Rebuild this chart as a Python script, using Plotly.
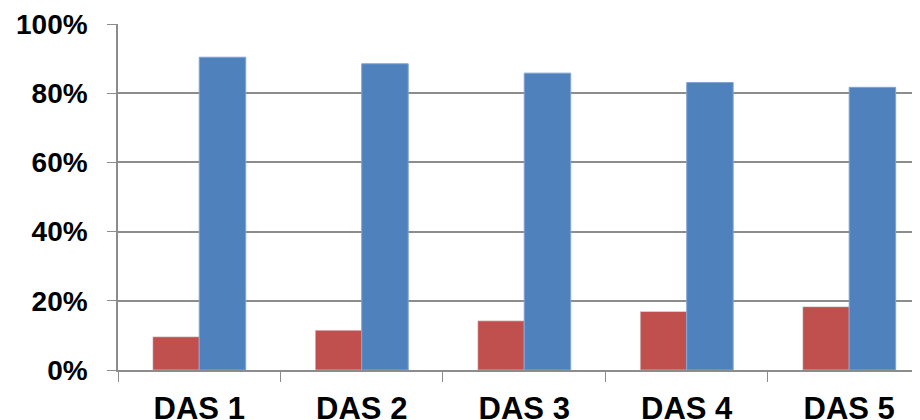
import plotly.graph_objects as go

categories = ["DAS 1", "DAS 2", "DAS 3", "DAS 4", "DAS 5"]
red_values = [9.6, 11.5, 14.2, 16.9, 18.3]
blue_values = [90.4, 88.5, 85.8, 83.1, 81.7]
y_ticks = [0, 20, 40, 60, 80, 100]
y_labels = [f"{v}%" for v in y_ticks]

fig = go.Figure()
fig.add_trace(go.Bar(x=categories, y=red_values, name="Series 1", marker_color="#C0504D"))
fig.add_trace(go.Bar(x=categories, y=blue_values, name="Series 2",
                     marker=dict(color="#4F81BD", line=dict(color="#7FA3D3", width=1))))

# page body has an 8px margin, so the margins here are 8px smaller
fig.update_layout(
    width=920, height=420,
    margin=dict(l=110, r=0, t=16, b=58),
    plot_bgcolor="white", paper_bgcolor="white",
    showlegend=False,
    barmode="group", bargap=0.428, bargroupgap=0,
    font=dict(family="Liberation Sans", color="black"),
)
fig.update_xaxes(
    range=[-0.5, 4.485],
    showline=True, linecolor="#8c8c8c", linewidth=1.5,
    ticks="outside", tickson="boundaries", ticklen=10, tickcolor="#8c8c8c",
    tickfont=dict(size=31, family="Liberation Sans", color="black", weight="bold"),
    ticklabelstandoff=10,
    showgrid=False,
)
fig.update_yaxes(
    range=[0, 100], tickvals=y_ticks, ticktext=y_labels,
    showline=True, linecolor="#8c8c8c", linewidth=1.5,
    ticks="outside", ticklen=9, tickcolor="#8c8c8c",
    gridcolor="#8c8c8c", gridwidth=1.5,
    tickfont=dict(size=28, family="Liberation Sans", color="black", weight="bold"),
    ticklabelstandoff=14,
    zeroline=False,
)

fig.write_html("out.html")
